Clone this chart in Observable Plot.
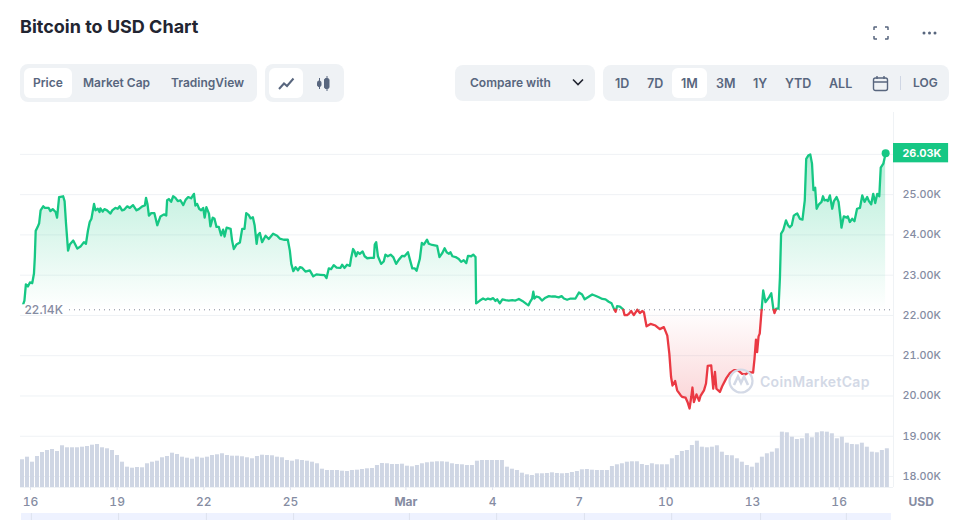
<!DOCTYPE html>
<html>
<head>
<meta charset="utf-8">
<script src="https://cdn.jsdelivr.net/npm/d3@7"></script>
<script src="https://cdn.jsdelivr.net/npm/@observablehq/plot@0.6"></script>
<style>
  html, body { margin: 0; padding: 0; background: #fff; overflow: hidden; }
  #page { position: relative; width: 953px; height: 520px; overflow: hidden; font-family: Inter, sans-serif; }
  #head { position: relative; height: 112px; }
  #chart svg { display: block; overflow: visible; background: transparent; }
  h1 { position: absolute; left: 20px; top: 15px; margin: 0; font-size: 18px; line-height: 24px; font-weight: 700; color: #222531; }
  .group { position: absolute; background: #eff2f5; border-radius: 8px; }
  .on { position: absolute; top: 4px; height: 30px; background: #fff; border-radius: 6px; }
  .lbl { position: absolute; font-size: 12px; font-weight: 600; color: #58667e; line-height: 16px; white-space: nowrap; }
  .rng { font-size: 12.5px; }
  .ico { position: absolute; }
  #mark { position: absolute; left: 727px; top: 367px; width: 145px; height: 28px; }
  #mark span { position: absolute; left: 33px; top: 6px; font-size: 14px; font-weight: 600; color: #d3d9e6; letter-spacing: .3px; }
</style>
</head>
<body>
<div id="page">
  <div id="head">
    <h1>Bitcoin to USD Chart</h1>
    <svg class="ico" style="left:873px;top:26px" width="16" height="14" fill="none" stroke="#58667e" stroke-width="1.5">
      <path d="M1 4V1.5Q1 1 1.5 1H4M12 1h2.500Q15 1 15 1.500V4M15 10v2.500Q15 13 14.500 13H12M4 13H1.500Q1 13 1 12.500V10"/>
    </svg>
    <svg class="ico" style="left:921px;top:30px" width="17" height="6" fill="#58667e">
      <circle cx="3" cy="3" r="1.500"/><circle cx="8.500" cy="3" r="1.500"/><circle cx="14" cy="3" r="1.500"/>
    </svg>

    <div class="group" style="left:20px;top:64px;width:237px;height:38px">
      <div class="on" style="left:4px;width:48px"></div>
    </div>
    <div class="lbl" style="left:33px;top:75px">Price</div>
    <div class="lbl" style="left:83px;top:75px">Market Cap</div>
    <div class="lbl" style="left:171px;top:75px">TradingView</div>

    <div class="group" style="left:265px;top:64px;width:79px;height:38px">
      <div class="on" style="left:4px;width:34px"></div>
    </div>
    <svg class="ico" style="left:278px;top:76px" width="17" height="15" fill="none" stroke="#58667e" stroke-width="2">
      <path d="M1 13L6 7.500L9 10L15.500 2.500"/>
    </svg>
    <svg class="ico" style="left:316px;top:75px" width="15" height="17" fill="#58667e" stroke="#58667e">
      <path d="M3.500 3V14M11 1V16" stroke-width="1"/>
      <rect x="1.500" y="6" width="3.500" height="5.500" rx="1.500"/><rect x="8.500" y="3.500" width="4.500" height="10" rx="1.500"/>
    </svg>

    <div class="group" style="left:455px;top:65px;width:140px;height:36px"></div>
    <div class="lbl" style="left:470px;top:75px">Compare with</div>
    <svg class="ico" style="left:572px;top:78px" width="12" height="9" fill="none" stroke="#222531" stroke-width="1.600">
      <path d="M1 1.500L6 6.500L11 1.500"/>
    </svg>

    <div class="group" style="left:603px;top:65px;width:346px;height:36px">
      <div class="on" style="left:69px;top:3px;width:35px"></div>
    </div>
    <div class="lbl rng" style="left:615px;top:76px">1D</div>
    <div class="lbl rng" style="left:647px;top:76px">7D</div>
    <div class="lbl rng" style="left:681px;top:76px">1M</div>
    <div class="lbl rng" style="left:716px;top:76px">3M</div>
    <div class="lbl rng" style="left:753px;top:76px">1Y</div>
    <div class="lbl rng" style="left:785px;top:76px">YTD</div>
    <div class="lbl rng" style="left:829px;top:76px">ALL</div>
    <svg class="ico" style="left:872px;top:75px" width="17" height="17" fill="none" stroke="#58667e" stroke-width="1.400">
      <rect x="1.500" y="3" width="14" height="12.500" rx="2"/><path d="M1.500 7H15.500M5 1V4M12 1V4"/>
    </svg>
    <div class="ico" style="left:900px;top:76px;width:1px;height:14px;background:#cfd6e4"></div>
    <div class="lbl" style="left:913px;top:75px">LOG</div>
  </div>
  <div id="chart"></div>
  <div id="mark">
    <svg width="28" height="28" fill="none" stroke="#d3d9e6" stroke-width="2.200">
      <circle cx="14" cy="14" r="11.500"/>
      <path d="M7 18L11 9.500L14 16L17 9.500L21 18" stroke-width="2.600"/>
    </svg>
    <span>CoinMarketCap</span>
  </div>
</div>
<script>
// price in thousands of USD, day counted from Feb 16 2023
const priceDays = [
  -0.32,-0.21,-0.16,-0.09,-0.02,0.06,0.12,0.15,0.18,0.25,0.30,0.35,0.44,0.50,0.63,0.69,0.77,0.87,0.92,0.99,
  1.13,1.18,1.23,1.30,1.36,1.48,1.62,1.73,1.85,1.92,1.99,2.05,2.11,2.20,2.25,2.33,2.39,2.42,2.50,2.56,
  2.65,2.77,2.83,2.94,3.02,3.09,3.17,3.25,3.35,3.44,3.55,3.67,3.75,3.87,3.96,4.00,4.05,4.10,4.18,4.29,
  4.39,4.50,4.62,4.70,4.73,4.79,4.87,4.94,5.02,5.10,5.19,5.29,5.37,5.46,5.56,5.66,5.71,5.77,5.84,5.91,
  5.98,6.03,6.09,6.18,6.23,6.31,6.37,6.44,6.52,6.60,6.67,6.72,6.79,6.93,6.98,7.04,7.13,7.25,7.33,7.41,
  7.47,7.56,7.62,7.70,7.76,7.83,7.87,7.94,8.02,8.14,8.25,8.40,8.54,8.63,8.77,8.91,8.98,9.03,9.10,9.18,
  9.26,9.33,9.41,9.52,9.67,9.79,9.90,10.04,
  10.18,10.25,10.33,10.41,10.50,10.60,10.73,10.79,10.87,10.96,11.06,11.10,11.17,11.22,11.27,11.33,11.40,11.50,11.57,11.66,
  11.77,11.89,11.92,11.97,12.03,12.14,12.23,12.29,12.37,12.47,12.56,12.66,12.75,12.87,12.95,13.07,13.14,13.22,13.30,13.37,
  13.48,13.55,13.62,13.73,13.79,13.91,14.08,14.16,14.26,14.34,14.41,14.49,14.54,14.61,14.72,14.83,14.91,15.00,15.09,15.15,
  15.26,15.33,15.41,15.43,15.47,15.56,15.67,15.76,15.84,15.93,16.02,16.10,16.16,16.25,16.34,16.45,16.56,16.68,16.79,16.91,
  17.03,17.18,17.24,17.31,17.37,17.41,17.45,17.52,17.61,17.71,17.83,17.95,18.06,18.18,18.29,18.39,18.47,18.58,18.70,18.87,
  18.99,19.10,19.19,19.30,19.45,19.56,19.68,19.80,19.91,20.02,20.12,20.20,20.26,20.31,20.41,20.52,20.57,20.66,
  20.72,20.80,20.89,21.01,21.10,21.18,21.24,21.33,21.47,21.64,21.79,21.93,22.05,22.12,22.18,22.23,22.32,22.39,22.51,22.56,
  22.68,22.76,22.82,22.88,22.92,22.97,23.06,23.15,23.20,23.32,23.39,23.45,23.57,23.64,23.70,23.75,23.87,23.95,24.10,24.22,
  24.36,24.49,24.64,24.76,24.87,25.02,25.07,25.12,25.16,25.21,25.25,25.30,25.37,25.45,25.57,25.65,25.72,25.76,25.82,25.90,
  25.95,25.99,26.06,26.16,26.23,26.29,26.36,26.43,26.49,26.55,26.64,26.73,26.81,26.86,26.93,27.00,27.06,27.11,27.17,27.22,
  27.30,27.39,27.44,27.49,27.56,27.61,27.68,27.76,27.82,27.91,27.98,28.05,28.08,28.16,28.26,28.30,28.37,28.45,28.53,28.62,
  28.72,28.80,28.88,28.97,29.03,29.11,29.18,29.25,29.32,29.39,29.44,29.53,29.61
]
const priceValues = [
  22.14,22.37,22.77,22.72,22.82,22.80,23.04,23.45,24.10,24.20,24.29,24.61,24.71,24.67,24.67,24.59,24.64,24.57,24.43,24.94,
  24.96,24.84,24.28,23.61,23.76,23.86,23.66,23.71,23.82,23.78,24.11,24.32,24.40,24.77,24.61,24.65,24.57,24.66,24.58,24.64,
  24.61,24.53,24.61,24.67,24.65,24.71,24.61,24.63,24.71,24.67,24.74,24.61,24.64,24.71,24.73,24.92,24.77,24.48,24.54,24.54,
  24.24,24.46,24.51,24.48,24.86,24.89,24.82,24.96,24.92,24.84,24.86,24.74,24.87,24.94,24.91,25.02,24.73,24.77,24.65,24.61,
  24.67,24.43,24.69,24.53,24.21,24.43,24.40,24.20,24.20,23.99,24.13,23.96,24.18,24.15,23.86,23.65,23.76,23.81,24.15,24.15,
  24.54,24.49,24.41,24.44,24.24,23.78,23.99,24.05,23.82,23.98,23.90,24.03,23.98,23.91,23.88,23.88,23.61,23.28,23.10,23.20,
  23.12,23.20,23.18,23.09,23.12,22.97,23.02,23.01,
  23.00,22.93,23.17,23.15,23.25,23.19,23.18,23.26,23.18,23.26,23.23,23.42,23.65,23.59,23.47,23.57,23.53,23.59,23.47,23.42,
  23.43,23.43,23.76,23.82,23.47,23.28,23.34,23.51,23.47,23.51,23.45,23.28,23.38,23.48,23.47,23.57,23.38,23.17,23.17,23.11,
  23.40,23.80,23.76,23.88,23.78,23.75,23.73,23.45,23.55,23.67,23.57,23.53,23.57,23.47,23.45,23.40,23.33,23.37,23.30,23.48,
  23.47,23.51,23.45,22.30,22.32,22.37,22.42,22.39,22.42,22.40,22.43,22.36,22.40,22.30,22.40,22.38,22.37,22.38,22.37,22.41,
  22.36,22.28,22.25,22.35,22.42,22.59,22.42,22.47,22.45,22.37,22.44,22.48,22.47,22.47,22.45,22.48,22.42,22.39,22.42,22.42,
  22.57,22.52,22.40,22.45,22.52,22.49,22.45,22.41,22.40,22.34,22.30,22.17,22.09,22.23,22.22,22.15,22.01,22.01,
  22.04,22.11,22.01,22.14,22.06,22.11,22.08,21.73,21.79,21.75,21.66,21.71,21.50,21.05,20.47,20.26,20.37,20.14,20.02,19.98,
  19.96,19.83,19.69,19.98,20.21,19.85,20.04,19.88,20.00,20.14,20.31,20.75,20.76,20.18,20.60,20.18,20.10,20.24,20.45,20.57,
  20.64,20.64,20.55,20.54,20.59,20.58,20.93,21.40,21.09,21.48,21.55,22.00,22.62,22.33,22.45,22.55,22.17,22.06,22.17,22.17,
  22.95,24.03,24.11,24.36,24.24,24.19,24.24,24.48,24.51,24.53,24.40,24.38,24.86,25.89,25.97,26.00,25.77,25.11,25.17,24.65,
  24.76,24.82,24.96,24.86,24.87,24.84,24.98,24.65,24.84,24.94,24.82,24.40,24.18,24.46,24.43,24.46,24.32,24.40,24.34,24.65,
  24.67,24.98,24.82,24.94,24.84,24.76,25.02,24.79,25.02,24.96,25.67,25.77,26.03
]
// volume in billions, one bar every 0.173 day
const volumes = [
  27.7,30.3,25.3,31,35,37,38,36,41.7,39.7,39.7,39.7,40.3,41,42.3,43,39.7,38.7,37,32,
  25.3,20.3,19.3,20,19.7,23.7,25.3,26.3,29.7,31,34.3,33,30.3,29.3,28.3,30.3,29.3,30.3,32,32.7,
  33.7,32,31.3,31.3,30.7,29.7,28.7,31,32.3,32,31.7,30.3,29.7,27,26.3,27.7,27,26.3,25.3,23.7,
  18.3,17,17,17,16.3,16,17,17.3,18,18.7,19,22,24,23.7,23,23,23.3,21.3,20.7,22,
  23.7,24.7,25.3,25.7,25.7,25.3,23.7,23,22.7,22,22,26.3,27,
  27,27,27,27,20.3,18.3,17,14.3,12.7,12,13.7,13.7,14,14.7,14,13.7,14,15,16,17.7,
  18,17.3,17,17,17,21,22.7,23.7,25.3,25.7,25.7,23,22,23.7,22.7,22.7,22.7,28.7,32,36,
  37,42,46.3,40.3,39.7,40.3,41.7,35.3,32,31.7,28.7,25.3,22,20.3,24.3,30.3,33.7,35.3,38.7,55.3,
  54.7,50.3,48,48.7,53.7,49.7,54.7,55.7,55.3,53.7,48.7,50.3,44.3,43,42.7,44.3,40.3,35.3,34.7,37,38.7
]
const volumeStep = 0.1731
const volumeStart = -0.346

const yTicks = [18, 19, 20, 21, 22, 23, 24, 25]
const gridLines = [18, 19, 20, 21, 22, 23, 24, 25, 26]
const xTickDays = [0, 3, 6, 9, 16, 19, 22, 25, 28]
const xTickLabels = ["16", "19", "22", "25", "4", "7", "10", "13", "16"]
const monthTickDay = 13
const navTickDays = [0.03, 3.05, 6.09, 9.11, 13.12, 16.14, 19.18, 22.2, 25.28, 28.25]

const basePrice = 22.14
const lastPrice = 26.03
const green = "#16c784"
const red = "#ea3943"
const axisGrey = "#858ca2"
const gridGrey = "#eff2f5"

const dayStart = -0.3463
const dayEnd = 29.882
const yFloor = 17.727
const yCeil = 27.04
const volumeToPrice = 1 / 40.25

function toDate(d) {
  return new Date(Date.UTC(2023, 1, 16) + d * 864e5)
}

// add a point wherever the price crosses the base so both colours meet on it
const rows = []
priceValues.forEach((v, i) => {
  if (i > 0) {
    const pv = priceValues[i - 1]
    if ((pv - basePrice) * (v - basePrice) < 0) {
      const t = (basePrice - pv) / (v - pv)
      rows.push({day: priceDays[i - 1] + t * (priceDays[i] - priceDays[i - 1]), price: basePrice})
    }
  }
  rows.push({day: priceDays[i], price: v})
})

const bars = volumes.map((v, i) => ({
  start: volumeStart + i * volumeStep,
  end: volumeStart + (i + 1) * volumeStep,
  top: yFloor + v * volumeToPrice
}))

function gradients() {
  const defs = d3.create("svg:defs")
  const up = defs.append("linearGradient").attr("id", "upFill").attr("x1", 0).attr("x2", 0).attr("y1", 0).attr("y2", 1)
  up.append("stop").attr("offset", "0%").attr("stop-color", green).attr("stop-opacity", 0.32)
  up.append("stop").attr("offset", "100%").attr("stop-color", green).attr("stop-opacity", 0)
  const down = defs.append("linearGradient").attr("id", "downFill").attr("x1", 0).attr("x2", 0).attr("y1", 0).attr("y2", 1)
  down.append("stop").attr("offset", "0%").attr("stop-color", red).attr("stop-opacity", 0)
  down.append("stop").attr("offset", "100%").attr("stop-color", red).attr("stop-opacity", 0.22)
  return defs.node()
}

const chart = Plot.plot({
  width: 953,
  height: 408,
  marginLeft: 20,
  marginRight: 60,
  marginTop: 0,
  marginBottom: 33,
  style: {fontFamily: "Inter, sans-serif", background: "transparent"},
  x: {type: "utc", domain: [toDate(dayStart), toDate(dayEnd)]},
  y: {domain: [yFloor, yCeil]},
  marks: [
    gradients,
    Plot.ruleY(gridLines, {stroke: gridGrey, strokeWidth: 1}),
    Plot.ruleY([yFloor], {stroke: gridGrey, strokeWidth: 1}),
    Plot.ruleX([toDate(dayEnd)], {y1: yFloor, y2: yCeil, stroke: gridGrey, strokeWidth: 1}),
    Plot.rectY(bars, {x1: d => toDate(d.start), x2: d => toDate(d.end), y1: yFloor, y2: "top", fill: "#cfd6e4", insetRight: 1}),
    Plot.areaY(rows, {x: d => toDate(d.day), y1: basePrice, y2: d => Math.max(d.price, basePrice), fill: "url(#upFill)"}),
    Plot.areaY(rows, {x: d => toDate(d.day), y1: basePrice, y2: d => Math.min(d.price, basePrice), fill: "url(#downFill)"}),
    Plot.ruleY([basePrice], {x1: toDate(1.35), x2: toDate(dayEnd), stroke: "#7f8798", strokeWidth: 1, strokeDasharray: "1,4"}),
    Plot.line(rows, {x: d => toDate(d.day), y: d => d.price >= basePrice ? d.price : NaN, stroke: green, strokeWidth: 2.3}),
    Plot.line(rows, {x: d => toDate(d.day), y: d => d.price <= basePrice ? d.price : NaN, stroke: red, strokeWidth: 2.3}),
    Plot.dot([lastPrice], {x: toDate(priceDays[priceDays.length - 1]), y: d => d, r: 4, fill: green}),
    Plot.rect([basePrice], {x1: toDate(dayStart), x2: toDate(1.26), y1: d => d - 0.125, y2: d => d + 0.125, fill: "#fff"}),
    Plot.text(["22.14K"], {x: toDate(-0.21), y: basePrice, textAnchor: "start", fontSize: 12, fontWeight: 500, fill: axisGrey}),
    Plot.rect([lastPrice], {x1: toDate(dayEnd), x2: toDate(31.79), y1: d => d - 0.24, y2: d => d + 0.24, fill: green}),
    Plot.text(["26.03K"], {x: toDate(dayEnd + 0.31), y: lastPrice, textAnchor: "start", fontSize: 10.8, fontWeight: 700, fill: "#fff"}),
    Plot.axisY(yTicks, {anchor: "right", tickSize: 0, tickPadding: 9, label: null, fontSize: 10.8, fontWeight: 500, color: axisGrey, tickFormat: d => d.toFixed(2) + "K"}),
    Plot.axisX(xTickDays.map(toDate), {tickSize: 3, tickPadding: 7, label: null, fontSize: 12, fontWeight: 500, color: axisGrey, stroke: "#dfe3ee", tickFormat: (d, i) => xTickLabels[i]}),
    Plot.axisX([toDate(monthTickDay)], {tickSize: 3, tickPadding: 7, label: null, fontSize: 12, fontWeight: 700, color: axisGrey, stroke: "#dfe3ee", tickFormat: () => "Mar"}),
    Plot.text(["USD"], {x: toDate(30.84), y: 17.37, fontSize: 12, fontWeight: 700, fill: axisGrey}),
    Plot.rect([0], {x1: toDate(-0.31), x2: toDate(29.81), y1: 17.08, y2: 16.9, fill: "#eef2ff"}),
    Plot.ruleX(navTickDays.map(toDate), {y1: 17.08, y2: 16.9, stroke: "#dde2ee", strokeWidth: 1})
  ]
})
document.getElementById("chart").append(chart)
</script>
</body>
</html>
